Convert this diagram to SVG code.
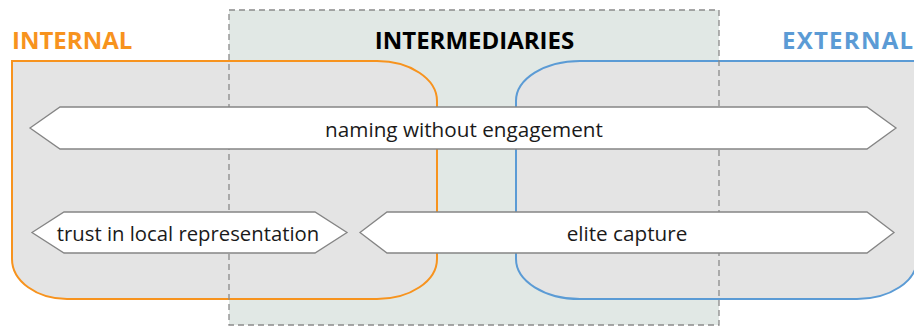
<svg xmlns="http://www.w3.org/2000/svg" width="914" height="327" viewBox="0 0 914 327">
  <style>
    .head { font-family: "Open Sans", "Liberation Sans", sans-serif; font-weight: bold; font-size: 24px; }
    .lbl { font-family: "Open Sans", "Liberation Sans", sans-serif; font-size: 20.7px; fill: #1a1a1a; text-anchor: middle; }
    .zone { fill: #e4e4e4; stroke-width: 2; }
    .arrow { fill: #ffffff; stroke: #858585; stroke-width: 1.3; }
  </style>

  <!-- intermediary band background -->
  <rect id="intermediaries-bg" x="229" y="10" width="490" height="315" fill="#e1e8e5"/>

  <!-- internal zone -->
  <g id="internal">
    <path class="zone" stroke="#f7931e" d="M12,61 H377 A60,40 0 0 1 437,101 V259 A60,40 0 0 1 377,299 H67 A55,40 0 0 1 12,259 Z"/>
    <text class="head" x="12" y="49" fill="#f7931e">INTERNAL</text>
  </g>

  <!-- external zone -->
  <g id="external">
    <path class="zone" stroke="#5b9bd5" d="M930,61 H580 A64,40 0 0 0 516,101 V259 A64,40 0 0 0 580,299 H857 A60,40 0 0 0 917,259 V61"/>
    <text class="head" x="782" y="49" fill="#5b9bd5" textLength="131" lengthAdjust="spacing">EXTERNAL</text>
  </g>

  <!-- intermediary band outline -->
  <g id="intermediaries">
    <rect x="229" y="10" width="490" height="315" fill="none" stroke="#8a8a8a" stroke-width="1.3" stroke-dasharray="6,4"/>
    <text class="head" x="474.5" y="49" fill="#000000" text-anchor="middle">INTERMEDIARIES</text>
  </g>

  <!-- double-headed spans -->
  <g id="connectors">
    <g id="naming">
      <polygon class="arrow" points="30,128 60,107 867,107 896,128 867,149 60,149"/>
      <text class="lbl" x="464" y="137">naming without engagement</text>
    </g>
    <g id="trust">
      <polygon class="arrow" points="32,232.5 64,212 315,212 347,232.5 315,253 64,253"/>
      <text class="lbl" x="188" y="241" style="font-size:20.3px">trust in local representation</text>
    </g>
    <g id="elite">
      <polygon class="arrow" points="360,232.5 387,212 867,212 894,232.5 867,253 387,253"/>
      <text class="lbl" x="627" y="241">elite capture</text>
    </g>
  </g>
</svg>
